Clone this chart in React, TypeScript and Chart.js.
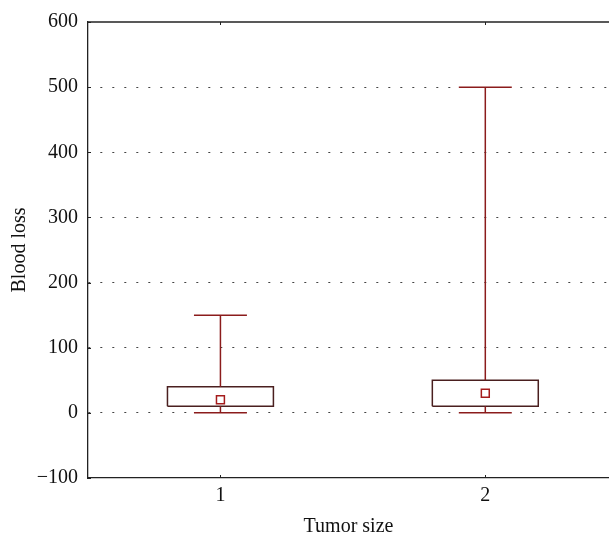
import { useEffect, useRef } from "react";
import { Chart, registerables } from "chart.js";
Chart.register(...registerables);

const categories = [1, 2];
const whiskerLow = [0, 0];
const q1 = [10, 10];
const q3 = [40, 50];
const whiskerHigh = [150, 500];
const means = [20, 30];
const yTicks = [-100, 0, 100, 200, 300, 400, 500, 600];
const xTicks = [1, 2];
const xRange = [0.5, 2.467];
const yRange = [-100, 600];

const BOX_HALF = 0.2;
const CAP_HALF = 0.1;
const boxColor = "#4a1f1f";
const whiskerColor = "#8b1c1c";
const markerColor = "#a51c1c";
const axisColor = "#222";
const FONT = "'Liberation Serif', 'Times New Roman', serif";

function seg(points: { x: number; y: number }[], color: string) {
  return {
    type: "scatter" as const,
    data: points,
    showLine: true,
    borderColor: color,
    backgroundColor: color,
    borderWidth: 1.5,
    pointRadius: 0,
    pointHoverRadius: 0,
    fill: false,
    tension: 0,
  };
}

const framePlugin = {
  id: "frame",
  afterDraw(chart: any) {
    const { ctx, chartArea, scales } = chart;
    ctx.save();
    ctx.strokeStyle = axisColor;
    ctx.lineWidth = 1.3;
    ctx.beginPath();
    ctx.moveTo(chartArea.left, chartArea.top);
    ctx.lineTo(chartArea.right, chartArea.top);
    ctx.stroke();
    ctx.lineWidth = 1;
    xTicks.forEach((v) => {
      const px = Math.round(scales.x.getPixelForValue(v)) + 0.5;
      ctx.beginPath();
      ctx.moveTo(px, chartArea.bottom);
      ctx.lineTo(px, chartArea.bottom - 3);
      ctx.moveTo(px, chartArea.top);
      ctx.lineTo(px, chartArea.top + 3);
      ctx.stroke();
    });
    yTicks.forEach((v) => {
      const py = Math.round(scales.y.getPixelForValue(v)) + 0.5;
      ctx.beginPath();
      ctx.moveTo(chartArea.left, py);
      ctx.lineTo(chartArea.left + 3, py);
      ctx.stroke();
    });
    ctx.restore();
  },
};

export default function App() {
  const ref = useRef<HTMLCanvasElement>(null);
  useEffect(() => {
    document.body.style.margin = "0";
    const datasets: any[] = [];
    categories.forEach((c, i) => {
      datasets.push(seg([{ x: c, y: q3[i] }, { x: c, y: whiskerHigh[i] }], whiskerColor));
      datasets.push(seg([{ x: c, y: whiskerLow[i] }, { x: c, y: q1[i] }], whiskerColor));
      datasets.push(
        seg([{ x: c - CAP_HALF, y: whiskerHigh[i] }, { x: c + CAP_HALF, y: whiskerHigh[i] }], whiskerColor)
      );
      datasets.push(
        seg([{ x: c - CAP_HALF, y: whiskerLow[i] }, { x: c + CAP_HALF, y: whiskerLow[i] }], whiskerColor)
      );
      datasets.push(
        seg(
          [
            { x: c - BOX_HALF, y: q1[i] },
            { x: c + BOX_HALF, y: q1[i] },
            { x: c + BOX_HALF, y: q3[i] },
            { x: c - BOX_HALF, y: q3[i] },
            { x: c - BOX_HALF, y: q1[i] },
          ],
          boxColor
        )
      );
    });
    datasets.push({
      type: "scatter",
      data: categories.map((c, i) => ({ x: c, y: means[i] })),
      pointStyle: "rect",
      pointRadius: 5.6,
      pointHoverRadius: 5.6,
      borderColor: markerColor,
      backgroundColor: "#ffffff",
      borderWidth: 1.5,
    });

    const chart = new Chart(ref.current as HTMLCanvasElement, {
      type: "scatter",
      data: { datasets },
      options: {
        animation: false,
        responsive: false,
        maintainAspectRatio: false,
        devicePixelRatio: 1,
        layout: { autoPadding: false, padding: { top: 22, left: 0, right: 0, bottom: 0 } },
        plugins: { legend: { display: false }, tooltip: { enabled: false } },
        scales: {
          x: {
            type: "linear",
            min: xRange[0],
            max: xRange[1],
            afterBuildTicks: (s: any) => {
              s.ticks = xTicks.map((v) => ({ value: v }));
            },
            afterFit: (s: any) => {
              s.height = 57;
            },
            grid: { display: false, drawTicks: false },
            border: { display: true, color: axisColor, width: 1.3 },
            ticks: {
              padding: 8,
              color: "#111",
              font: { family: FONT, size: 20, lineHeight: 1 },
              callback: (v: any) => String(v),
            },
            title: {
              display: true,
              text: "Tumor size",
              color: "#111",
              font: { family: FONT, size: 20, lineHeight: 1 },
              padding: { top: 0, bottom: -1.5 },
            },
          },
          y: {
            type: "linear",
            min: yRange[0],
            max: yRange[1],
            afterBuildTicks: (s: any) => {
              s.ticks = yTicks.map((v) => ({ value: v }));
            },
            afterFit: (s: any) => {
              s.width = 88;
            },
            grid: {
              drawTicks: false,
              color: (ctx: any) =>
                ctx.tick && (ctx.tick.value === yRange[0] || ctx.tick.value === yRange[1])
                  ? "rgba(0,0,0,0)"
                  : "#444",
              lineWidth: 1,
            },
            border: { display: true, color: axisColor, width: 1.3, dash: [2, 10] },
            ticks: {
              padding: 10,
              color: "#111",
              font: { family: FONT, size: 20, lineHeight: 1 },
              callback: (v: any) => (Number(v) < 0 ? "\u2212" + Math.abs(Number(v)) : String(v)),
            },
            title: {
              display: true,
              text: "Blood loss",
              color: "#111",
              font: { family: FONT, size: 20, lineHeight: 1 },
              padding: { top: 10, bottom: 0 },
            },
          },
        },
      },
      plugins: [framePlugin],
    } as any);
    return () => chart.destroy();
  }, []);

  return (
    <div style={{ position: "absolute", left: 0, top: 0, width: 609, height: 535 }}>
      <canvas ref={ref} width={609} height={535} style={{ display: "block" }} />
    </div>
  );
}
